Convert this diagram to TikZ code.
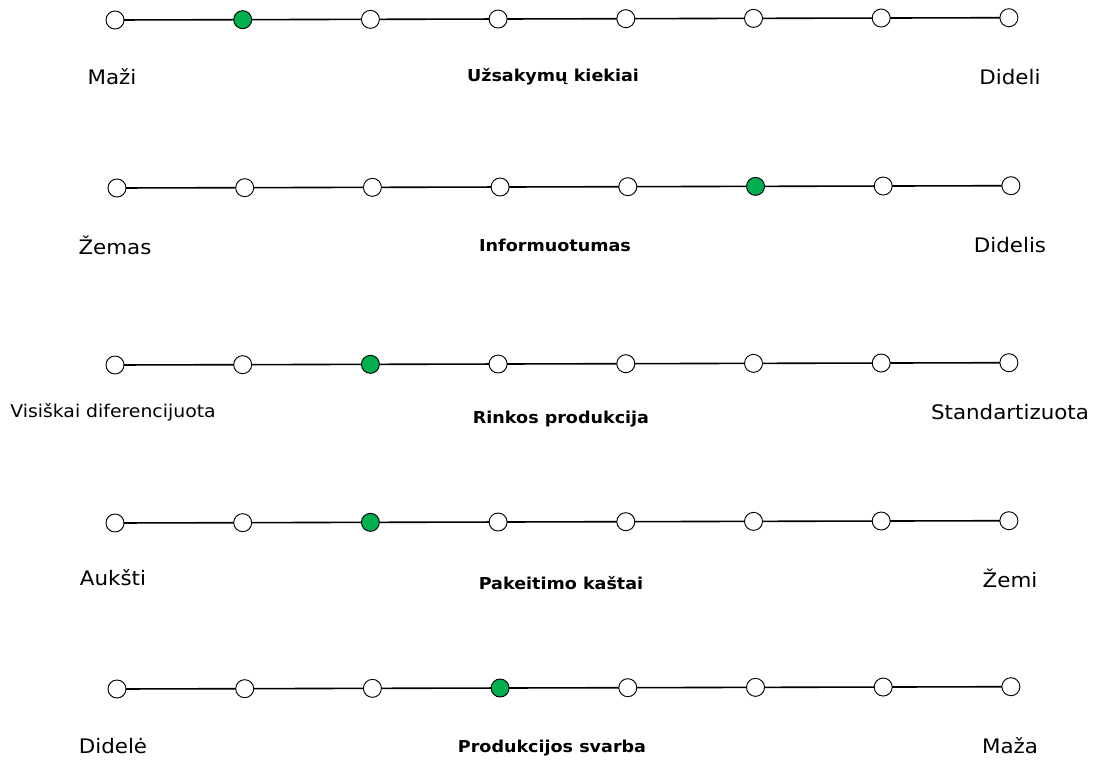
\documentclass[tikz,border=0pt]{standalone}
\usepackage{fontspec}
\setmainfont[FakeStretch=1.07]{DejaVu Sans}
\definecolor{markgreen}{HTML}{00B050}
\begin{document}
\begin{tikzpicture}[x=0.75pt,y=-0.75pt,
  dot/.style={circle,draw=black,line width=0.7pt,fill=white,minimum size=13.5pt,inner sep=0pt},
  picked/.style={dot,fill=markgreen},
  scaleline/.style={line width=1.2pt},
  endlabel/.style={font=\fontsize{15}{17}\selectfont,inner sep=0pt},
  smalllabel/.style={font=\fontsize{13.2}{15}\selectfont,inner sep=0pt},
  titlelabel/.style={font=\bfseries\fontsize{12.3}{14}\selectfont,inner sep=0pt}]
\useasboundingbox (0,0) rectangle (1096,760);
% Each row: y at left end, x of first dot, index of the chosen dot
\foreach \r/\yy/\xx/\g in {1/20/115/2, 2/188/117/6, 3/365/115/3, 4/523/115/3, 5/689/117/4}{
  \foreach \i in {1,...,8}{
    \pgfmathsetmacro{\px}{\xx+(\i-1)*127.7}
    \pgfmathsetmacro{\py}{\yy-(\i-1)*2.3/7}
    \coordinate (p\r c\i) at (\px,\py);
  }
  \foreach \i [evaluate=\i as \j using int(\i+1)] in {1,...,7}{
    \draw[scaleline] (p\r c\i) -- (p\r c\j);
  }
  \foreach \i in {1,...,8}{
    \ifnum\i=\g
      \node[picked] (r\r c\i) at (p\r c\i) {};
    \else
      \node[dot] (r\r c\i) at (p\r c\i) {};
    \fi
  }
}
% Row labels
\node[endlabel] (l1a) at (112,77) {Maži};
\node[titlelabel] (l1b) at (553,77) {Užsakymų kiekiai};
\node[endlabel] (l1c) at (1010,77) {Dideli};

\node[endlabel] (l2a) at (115,245) {Žemas};
\node[titlelabel] (l2b) at (555,245) {Informuotumas};
\node[endlabel] (l2c) at (1010,245) {Didelis};

\node[smalllabel] (l3a) at (113,412) {Visiškai diferencijuota};
\node[titlelabel] (l3b) at (561,419) {Rinkos produkcija};
\node[endlabel] (l3c) at (1010,412) {Standartizuota};

\node[endlabel] (l4a) at (113,578) {Aukšti};
\node[titlelabel] (l4b) at (561,583) {Pakeitimo kaštai};
\node[endlabel] (l4c) at (1010,578) {Žemi};

\node[endlabel] (l5a) at (113,746) {Didelė};
\node[titlelabel] (l5b) at (552,748) {Produkcijos svarba};
\node[endlabel] (l5c) at (1010,746) {Maža};
\end{tikzpicture}
\end{document}
